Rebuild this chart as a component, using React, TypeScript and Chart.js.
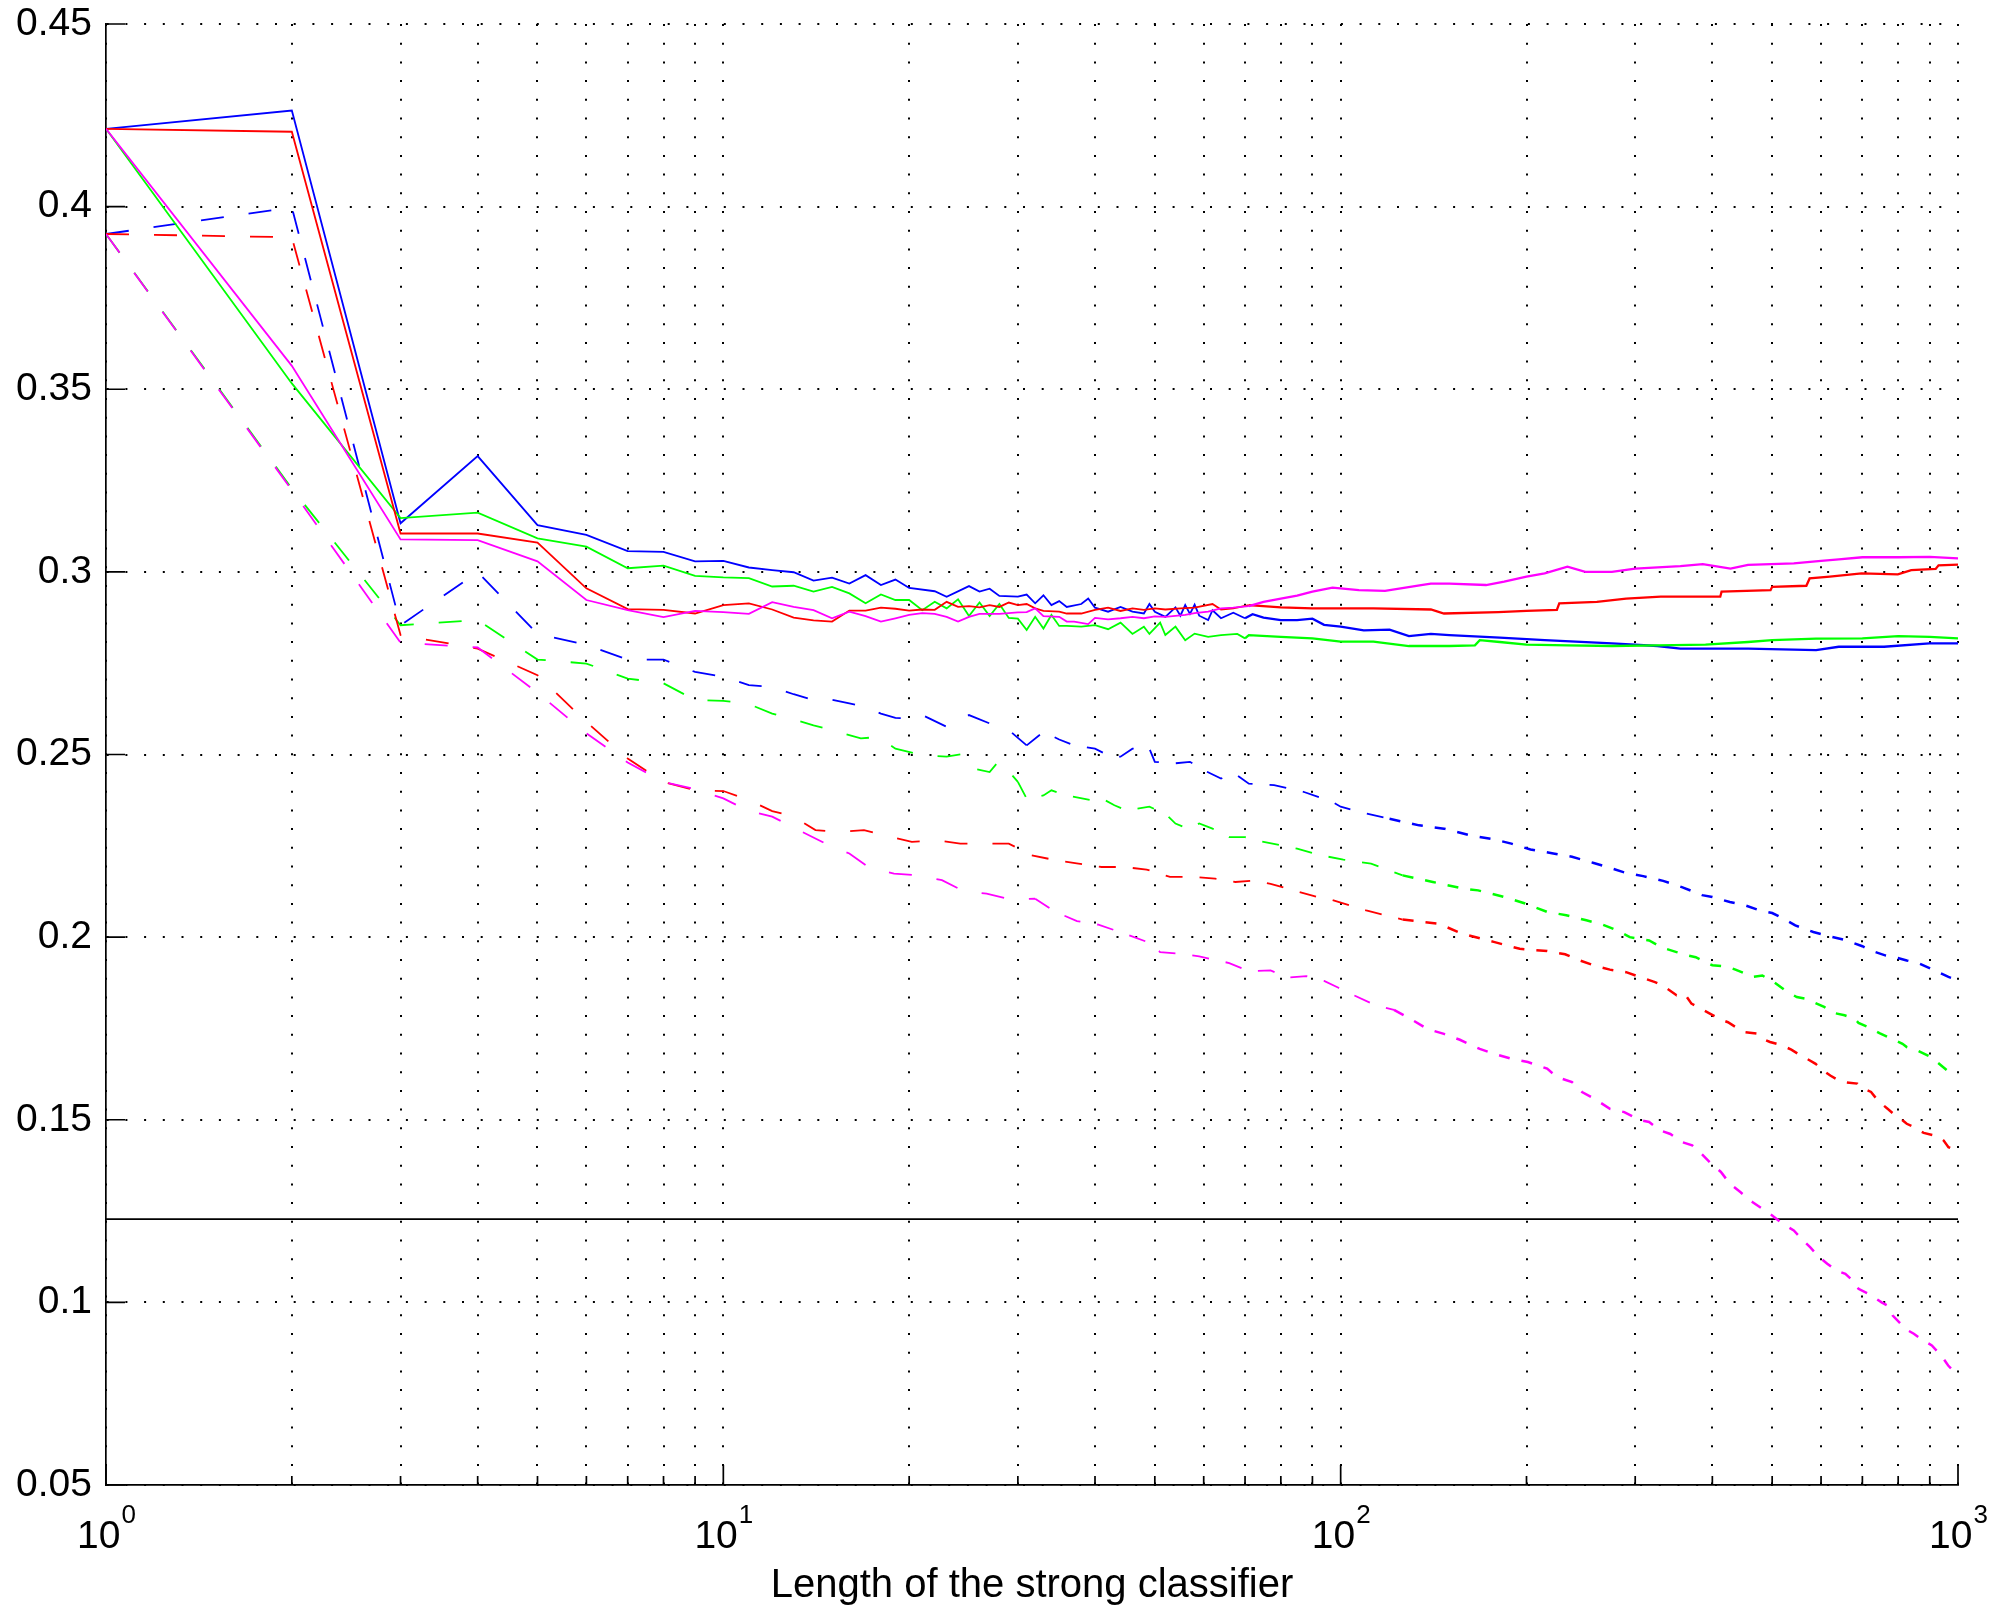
import React, { useEffect, useRef } from "react";
import { Chart, registerables } from "chart.js";

Chart.register(...registerables);

// ---------------- data ----------------
const xDecades = [1, 10, 100, 1000];
const xDecadeExponents = ["0", "1", "2", "3"];
const xMinorMultipliers = [2, 3, 4, 5, 6, 7, 8, 9];
const yTickValues = [0.05, 0.1, 0.15, 0.2, 0.25, 0.3, 0.35, 0.4, 0.45];
const yTickLabels = ["0.05", "0.1", "0.15", "0.2", "0.25", "0.3", "0.35", "0.4", "0.45"];
const xAxisTitle = "Length of the strong classifier";
const baselineValue = 0.1228;

const blueSolid: [number, number][] = [
  [1, 0.4213], [2, 0.4263], [3, 0.3133], [4, 0.3317], [5, 0.3128], [6, 0.3101], [7, 0.3057], [8, 0.3055], [9, 0.3029], [10, 0.303],
  [11, 0.3012], [12, 0.3005], [13, 0.2999], [14, 0.2976], [15, 0.2984], [16, 0.2968], [17, 0.2991], [18, 0.2964], [19, 0.2979], [20, 0.2956],
  [22, 0.2947], [23, 0.2932], [25, 0.2961], [26, 0.2946], [27, 0.2954], [28, 0.2934], [30, 0.2932], [31, 0.2938], [32, 0.2914], [33, 0.2936],
  [34, 0.2909], [35, 0.292], [36, 0.2904], [38, 0.2912], [39, 0.2927], [40, 0.2902], [42, 0.2891], [44, 0.2904], [46, 0.2891], [48, 0.2886],
  [49, 0.2912], [50, 0.2891], [52, 0.2877], [54, 0.2903], [55, 0.288], [56, 0.2909], [57, 0.2885], [58, 0.291], [59, 0.288], [61, 0.2868],
  [62, 0.2895], [64, 0.2873], [67, 0.2888], [70, 0.2873], [72, 0.2884], [75, 0.2875], [80, 0.2868], [85, 0.2868], [90, 0.2872], [94, 0.2855],
  [100, 0.285], [109, 0.284], [120, 0.2842], [129, 0.2824], [140, 0.283], [150, 0.2827], [181, 0.282], [214, 0.2813], [275, 0.2804], [326, 0.2797],
  [355, 0.279], [457, 0.279], [589, 0.2786], [641, 0.2795], [759, 0.2795], [899, 0.2804], [1000, 0.2804],
];

const greenSolid: [number, number][] = [
  [1, 0.4213], [2, 0.3516], [3, 0.3147], [4, 0.3162], [5, 0.3092], [6, 0.3069], [7, 0.301], [8, 0.3017], [9, 0.2989], [10, 0.2985],
  [11, 0.2983], [12, 0.296], [13, 0.2962], [14, 0.2946], [15, 0.2959], [16, 0.2941], [17, 0.2914], [18, 0.2938], [19, 0.2923], [20, 0.2923],
  [21, 0.2895], [22, 0.2918], [23, 0.29], [24, 0.2925], [25, 0.2879], [26, 0.2916], [27, 0.2879], [28, 0.2912], [29, 0.2874], [30, 0.2872],
  [31, 0.2841], [32, 0.2877], [33, 0.2845], [34, 0.2882], [35, 0.2852], [36, 0.2852], [38, 0.285], [40, 0.2854], [42, 0.2843], [44, 0.2861],
  [46, 0.283], [48, 0.285], [49, 0.283], [51, 0.2861], [52, 0.2827], [54, 0.285], [56, 0.2813], [58, 0.2831], [61, 0.2822], [64, 0.2827],
  [68, 0.283], [70, 0.2818], [71, 0.2827], [80, 0.2822], [90, 0.2818], [100, 0.2809], [113, 0.2809], [129, 0.2797], [150, 0.2797], [165, 0.2799],
  [168, 0.2813], [181, 0.2808], [200, 0.2801], [233, 0.2799], [275, 0.2797], [326, 0.2799], [390, 0.2801], [457, 0.2808], [500, 0.2813], [589, 0.2817],
  [700, 0.2818], [800, 0.2824], [900, 0.2822], [1000, 0.2818],
];

const redSolid: [number, number][] = [
  [1, 0.4213], [2, 0.4205], [3, 0.3105], [4, 0.3105], [5, 0.308], [6, 0.2955], [7, 0.2898], [8, 0.2896], [9, 0.2886], [10, 0.2909],
  [11, 0.2914], [12, 0.2897], [13, 0.2875], [14, 0.2867], [15, 0.2864], [16, 0.2894], [17, 0.2894], [18, 0.2902], [19, 0.2899], [20, 0.2894],
  [21, 0.2897], [22, 0.2896], [23, 0.2918], [24, 0.2904], [25, 0.2906], [26, 0.2903], [27, 0.2909], [28, 0.2904], [29, 0.2916], [30, 0.2909],
  [31, 0.2912], [32, 0.29], [33, 0.2893], [35, 0.2891], [36, 0.2886], [38, 0.2886], [40, 0.2896], [42, 0.2902], [44, 0.2893], [46, 0.29],
  [48, 0.2896], [50, 0.29], [52, 0.2897], [55, 0.29], [58, 0.2902], [62, 0.2912], [64, 0.2897], [67, 0.29], [71, 0.2909], [80, 0.2903],
  [90, 0.29], [113, 0.29], [140, 0.2897], [147, 0.2886], [180, 0.289], [200, 0.2893], [224, 0.2896], [226, 0.2914], [260, 0.2918], [290, 0.2927],
  [330, 0.2932], [412, 0.2932], [414, 0.2946], [497, 0.295], [500, 0.2959], [568, 0.2962], [575, 0.2982], [620, 0.2987], [698, 0.2996], [799, 0.2993],
  [840, 0.3005], [920, 0.3008], [930, 0.3018], [1000, 0.302],
];

const magentaSolid: [number, number][] = [
  [1, 0.4213], [2, 0.3564], [3, 0.3089], [4, 0.3087], [5, 0.3029], [6, 0.2923], [7, 0.2895], [8, 0.2876], [9, 0.2893], [10, 0.289],
  [11, 0.2885], [12, 0.2917], [13, 0.2904], [14, 0.2895], [15, 0.2873], [16, 0.2891], [17, 0.2879], [18, 0.2864], [19, 0.2873], [20, 0.2882],
  [21, 0.2887], [22, 0.2885], [23, 0.2877], [24, 0.2864], [25, 0.2877], [26, 0.2885], [28, 0.2885], [30, 0.2889], [31, 0.289], [32, 0.29],
  [33, 0.2879], [35, 0.2877], [36, 0.2864], [37, 0.2864], [39, 0.2857], [40, 0.2874], [42, 0.287], [44, 0.2873], [46, 0.2877], [48, 0.2873],
  [50, 0.2878], [52, 0.2877], [56, 0.2882], [58, 0.2887], [61, 0.2891], [64, 0.29], [67, 0.2902], [71, 0.2906], [75, 0.2918], [80, 0.2927],
  [85, 0.2935], [90, 0.2946], [97, 0.2957], [107, 0.295], [118, 0.2948], [135, 0.2964], [140, 0.2968], [150, 0.2968], [172, 0.2964], [184, 0.2973],
  [200, 0.2987], [214, 0.2996], [233, 0.3014], [249, 0.3], [275, 0.3], [300, 0.3009], [355, 0.3016], [386, 0.3021], [428, 0.3009], [457, 0.3019],
  [542, 0.3023], [600, 0.303], [641, 0.3034], [700, 0.304], [800, 0.304], [900, 0.3041], [1000, 0.3037],
];

const blueDashed: [number, number][] = [
  [1, 0.3925], [2, 0.3998], [3, 0.2854], [4, 0.2999], [5, 0.283], [6, 0.28], [7, 0.276], [8, 0.276], [9, 0.2726], [10, 0.2713],
  [11, 0.269], [12, 0.2685], [13, 0.2665], [14, 0.2649], [15, 0.265], [16, 0.264], [17, 0.263], [18, 0.2612], [19, 0.26], [20, 0.2599],
  [21, 0.2608], [23, 0.2576], [25, 0.2608], [27, 0.2585], [29, 0.2567], [31, 0.2525], [33, 0.2562], [35, 0.2541], [37, 0.2525], [40, 0.2516],
  [42, 0.2498], [44, 0.2494], [46, 0.2516], [49, 0.2516], [50, 0.248], [54, 0.2476], [57, 0.248], [60, 0.2457], [64, 0.2434], [66, 0.2446],
  [68, 0.2443], [71, 0.242], [78, 0.2416], [87, 0.2398], [97, 0.237], [100, 0.2357], [107, 0.2343], [120, 0.2324], [134, 0.2306], [147, 0.2297],
  [162, 0.2279], [178, 0.2267], [189, 0.2256], [203, 0.224], [221, 0.2229], [237, 0.222], [257, 0.2203], [273, 0.219], [287, 0.2178], [309, 0.2167],
  [333, 0.2154], [357, 0.2137], [385, 0.2115], [400, 0.211], [427, 0.2096], [452, 0.2087], [478, 0.2073], [500, 0.2066], [525, 0.2048], [545, 0.2032],
  [583, 0.2014], [621, 0.2002], [660, 0.1991], [700, 0.1975], [720, 0.1964], [762, 0.195], [791, 0.1945], [826, 0.1936], [868, 0.1927], [903, 0.1914],
  [929, 0.1904], [965, 0.1891], [1000, 0.1882],
];

const greenDashed: [number, number][] = [
  [1, 0.3925], [2, 0.3228], [3, 0.2854], [4, 0.2868], [5, 0.276], [6, 0.2749], [7, 0.2708], [8, 0.2695], [9, 0.2649], [10, 0.2647],
  [11, 0.2638], [12, 0.2612], [13, 0.2596], [14, 0.258], [15, 0.2567], [16.7, 0.2544], [17.8, 0.2548], [19, 0.2516], [21, 0.2498], [23, 0.2494],
  [24.3, 0.2501], [25, 0.2464], [27, 0.2452], [28, 0.2484], [30, 0.2425], [31, 0.2379], [33, 0.2388], [34, 0.2402], [36, 0.2388], [39.5, 0.2375],
  [41, 0.238], [43, 0.2361], [45, 0.2347], [49, 0.2357], [52, 0.2338], [54, 0.2311], [56.5, 0.2297], [59, 0.2311], [62, 0.2297], [66, 0.2274],
  [70, 0.2274], [73, 0.2265], [85, 0.2242], [93, 0.2224], [101, 0.2212], [112, 0.2201], [126, 0.2169], [141, 0.2151], [158, 0.2133], [167, 0.2128],
  [184, 0.211], [199, 0.2092], [216, 0.2069], [232, 0.206], [250, 0.2046], [265, 0.2035], [280, 0.2019], [294, 0.2], [316, 0.1991], [332, 0.1971],
  [350, 0.1959], [365, 0.195], [376, 0.1945], [390, 0.1932], [400, 0.1923], [422, 0.192], [436, 0.1911], [452, 0.19], [464, 0.1891], [482, 0.1895],
  [503, 0.1877], [525, 0.1854], [548, 0.1836], [565, 0.1832], [607, 0.1809], [627, 0.1793], [655, 0.1786], [680, 0.1777], [690, 0.1765], [715, 0.1754],
  [746, 0.1737], [787, 0.1719], [813, 0.1708], [826, 0.1699], [858, 0.169], [903, 0.1672], [922, 0.166], [960, 0.1635], [1000, 0.1625],
];

const redDashed: [number, number][] = [
  [1, 0.3925], [2, 0.3916], [3, 0.2827], [4, 0.279], [5, 0.2717], [6, 0.2589], [7, 0.2489], [8, 0.2425], [9, 0.2402], [10, 0.24],
  [11, 0.2375], [12, 0.2345], [13, 0.233], [14.1, 0.2293], [15.5, 0.2288], [16.9, 0.2293], [18.5, 0.2276], [20.2, 0.2261], [22.2, 0.2265], [24.2, 0.2256],
  [26.5, 0.2256], [29, 0.2256], [31.6, 0.2224], [34.2, 0.2212], [37.6, 0.2201], [41, 0.2192], [44.5, 0.2192], [48.5, 0.2185], [52.9, 0.2165], [57.4, 0.2165],
  [62.6, 0.216], [67.5, 0.2151], [72.5, 0.2155], [77, 0.2146], [91.5, 0.211], [96.7, 0.2102], [110, 0.2073], [126, 0.2048], [144, 0.2037], [157, 0.201],
  [177, 0.1987], [195, 0.1968], [216, 0.1962], [231, 0.1953], [244, 0.1936], [260, 0.192], [273, 0.1911], [290, 0.1904], [305, 0.1891], [323, 0.1877],
  [332, 0.1868], [338, 0.1859], [350, 0.1841], [361, 0.1844], [370, 0.1818], [397, 0.179], [406, 0.1781], [416, 0.1772], [424, 0.1767], [441, 0.1749],
  [452, 0.174], [472, 0.1736], [482, 0.1722], [496, 0.1713], [518, 0.1704], [537, 0.1692], [550, 0.1681], [569, 0.1667], [588, 0.1653], [605, 0.1635],
  [621, 0.1621], [639, 0.1609], [655, 0.1603], [687, 0.1599], [698, 0.1588], [723, 0.1576], [743, 0.1551], [769, 0.153], [791, 0.1512], [807, 0.1503],
  [826, 0.1489], [848, 0.148], [864, 0.1471], [880, 0.1464], [915, 0.1457], [932, 0.1453], [948, 0.1443], [965, 0.1425], [985, 0.1418], [1000, 0.1411],
];

const magentaDashed: [number, number][] = [
  [1, 0.3925], [2, 0.3224], [3, 0.2806], [4, 0.2793], [5, 0.2669], [6, 0.2558], [7, 0.2478], [8, 0.2425], [9, 0.2405], [10, 0.238],
  [11, 0.2345], [12, 0.233], [13, 0.23], [14.8, 0.2252], [16, 0.2229], [17.3, 0.2188], [18.9, 0.2174], [20.7, 0.2169], [22.6, 0.2156], [24.5, 0.2126],
  [26.7, 0.2119], [29.3, 0.2103], [32, 0.2105], [34.5, 0.2069], [37.4, 0.2044], [40.5, 0.2034], [43.9, 0.2014], [49.1, 0.1984], [51, 0.1959], [56, 0.1953],
  [59, 0.1947], [66, 0.1929], [71, 0.1907], [77, 0.1909], [82, 0.1889], [88, 0.1893], [94, 0.188], [99, 0.1862], [105, 0.1841], [114, 0.1813],
  [122, 0.1801], [131, 0.1772], [138, 0.1749], [147, 0.1735], [156, 0.1719], [168, 0.1694], [177, 0.1681], [189, 0.1667], [201, 0.1658], [216, 0.164],
  [224, 0.1617], [237, 0.1603], [246, 0.1576], [258, 0.1557], [273, 0.153], [288, 0.1521], [304, 0.15], [316, 0.1494], [329, 0.1471], [342, 0.1461],
  [357, 0.1439], [371, 0.143], [385, 0.1405], [396, 0.1384], [413, 0.1357], [427, 0.1325], [444, 0.1302], [465, 0.1274], [486, 0.1252], [500, 0.1238],
  [520, 0.1215], [542, 0.1197], [560, 0.1171], [576, 0.1151], [596, 0.1124], [614, 0.1106], [635, 0.1087], [657, 0.1078], [680, 0.1055], [690, 0.1037],
  [724, 0.1019], [752, 0.1], [773, 0.0989], [784, 0.0964], [806, 0.0943], [830, 0.0923], [848, 0.0914], [878, 0.0896], [897, 0.0887], [907, 0.0882],
  [940, 0.0854], [964, 0.0827], [994, 0.0804], [1000, 0.0795],
];

// ---------------- styling helpers ----------------
const FONT = '"Liberation Sans", Arial, Helvetica, sans-serif';
const toPoints = (arr: [number, number][]) => arr.map(([x, y]) => ({ x, y }));
const xGridValues: number[] = [];
xDecades.forEach((d, i) => {
  xGridValues.push(d);
  if (i < xDecades.length - 1) xMinorMultipliers.forEach((m) => xGridValues.push(d * m));
});

const solidSet = (data: [number, number][], color: string) => ({
  data: toPoints(data),
  borderColor: color,
  backgroundColor: color,
  borderWidth: 1.8,
  pointRadius: 0,
  fill: false,
  tension: 0,
  segment: {
    borderWidth: (ctx: any) => (ctx.p0.parsed && ctx.p0.parsed.x >= 70 ? 2.3 : undefined),
  },
});

const dashedSet = (data: [number, number][], color: string) => ({
  data: toPoints(data),
  borderColor: color,
  backgroundColor: color,
  borderWidth: 1.8,
  pointRadius: 0,
  fill: false,
  tension: 0,
  borderDash: [23, 25],
  segment: {
    borderDash: (ctx: any) => {
      const x = ctx.p0.parsed ? ctx.p0.parsed.x : 1;
      if (x >= 120) return [11, 12];
      if (x >= 30) return [17, 17];
      return undefined;
    },
    borderWidth: (ctx: any) => (ctx.p0.parsed && ctx.p0.parsed.x >= 120 ? 2.5 : undefined),
  },
});

const axesPlugin = {
  id: "matlabAxes",
  afterDatasetsDraw(chart: any) {
    const { ctx, chartArea, scales } = chart;
    const { left, right, bottom } = chartArea;
    const x = scales.x;
    const y = scales.y;
    ctx.save();
    ctx.strokeStyle = "#000";
    ctx.lineWidth = 1.7;
    ctx.beginPath();
    yTickValues.forEach((v) => {
      const py = y.getPixelForValue(v);
      ctx.moveTo(left, py);
      ctx.lineTo(left + 19, py);
    });
    xDecades.forEach((d) => {
      const px = x.getPixelForValue(d);
      ctx.moveTo(px, bottom);
      ctx.lineTo(px, bottom - 20);
    });
    xDecades.slice(0, 3).forEach((d) => {
      xMinorMultipliers.forEach((m) => {
        const px = x.getPixelForValue(d * m);
        ctx.moveTo(px, bottom);
        ctx.lineTo(px, bottom - 9);
      });
    });
    ctx.stroke();

    ctx.fillStyle = "#000";
    ctx.textBaseline = "alphabetic";
    ctx.textAlign = "left";
    xDecades.forEach((d, i) => {
      const px = x.getPixelForValue(d);
      const exp = xDecadeExponents[i];
      ctx.font = `39px ${FONT}`;
      const wBase = ctx.measureText("10").width;
      ctx.font = `26px ${FONT}`;
      const wExp = ctx.measureText(exp).width;
      const start = px - (wBase + wExp) / 2;
      ctx.font = `39px ${FONT}`;
      ctx.fillText("10", start, bottom + 63);
      ctx.font = `26px ${FONT}`;
      ctx.fillText(exp, start + wBase + 1, bottom + 38);
    });

    ctx.font = `40px ${FONT}`;
    ctx.textAlign = "center";
    ctx.fillText(xAxisTitle, (left + right) / 2, bottom + 112);
    ctx.restore();
  },
};

export default function App() {
  const canvasRef = useRef<HTMLCanvasElement | null>(null);

  useEffect(() => {
    document.body.style.margin = "0";
    const canvas = canvasRef.current;
    if (!canvas) return;

    const gridCommon = {
      display: true,
      drawOnChartArea: true,
      drawTicks: false,
      color: "#000",
      lineWidth: 2,
    };
    const borderCommon = { display: true, color: "#000", width: 1.7, dash: [2, 16.7] };

    const chart = new Chart(canvas, {
      type: "line",
      data: {
        datasets: [
          solidSet(magentaSolid, "#ff00ff"),
          solidSet(redSolid, "#ff0000"),
          solidSet(greenSolid, "#00ff00"),
          solidSet(blueSolid, "#0000ff"),
          dashedSet(magentaDashed, "#ff00ff"),
          dashedSet(redDashed, "#ff0000"),
          dashedSet(greenDashed, "#00ff00"),
          dashedSet(blueDashed, "#0000ff"),
          {
            data: [
              { x: 1, y: baselineValue },
              { x: 1000, y: baselineValue },
            ],
            borderColor: "#000",
            backgroundColor: "#000",
            borderWidth: 1.8,
            pointRadius: 0,
            fill: false,
            tension: 0,
          },
        ] as any,
      },
      options: {
        animation: false,
        responsive: false,
        events: [],
        layout: { padding: { left: 0, right: 39, top: 24, bottom: 0 } },
        plugins: {
          legend: { display: false },
          tooltip: { enabled: false },
          title: { display: false },
        },
        elements: { point: { radius: 0 }, line: { tension: 0 } },
        scales: {
          x: {
            type: "logarithmic",
            position: "bottom",
            min: 1,
            max: 1000,
            afterBuildTicks: (s: any) => {
              s.ticks = xGridValues.map((v) => ({ value: v }));
            },
            afterFit: (s: any) => {
              s.height = 125;
              s.paddingLeft = 0;
              s.paddingRight = 0;
            },
            ticks: { display: false },
            grid: gridCommon,
            border: borderCommon,
          },
          y: {
            type: "linear",
            position: "left",
            min: 0.05,
            max: 0.45,
            afterBuildTicks: (s: any) => {
              s.ticks = yTickValues.map((v) => ({ value: v }));
            },
            afterFit: (s: any) => {
              s.width = 106;
              s.paddingTop = 0;
              s.paddingBottom = 0;
            },
            ticks: {
              autoSkip: false,
              padding: 14,
              color: "#000",
              font: { family: FONT, size: 39 },
              callback: (_v: any, i: number) => yTickLabels[i],
            },
            grid: gridCommon,
            border: borderCommon,
          },
        },
      } as any,
      plugins: [axesPlugin],
    });

    return () => {
      chart.destroy();
    };
  }, []);

  return (
    <div style={{ width: 1997, height: 1610, background: "#fff" }}>
      <canvas ref={canvasRef} width={1997} height={1610} style={{ display: "block" }} />
    </div>
  );
}
